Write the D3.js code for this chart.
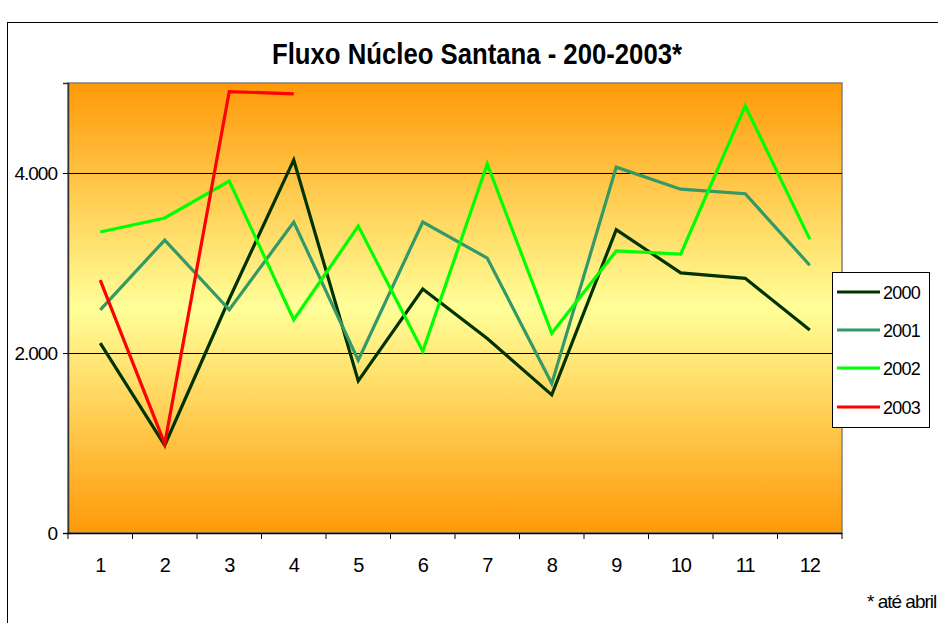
<!DOCTYPE html>
<html>
<head>
<meta charset="utf-8">
<script src="https://cdn.jsdelivr.net/npm/d3@7"></script>
<style>
  body { margin: 0; background: #fff; }
  svg { display: block; font-family: "Liberation Sans", Arial, sans-serif; }
</style>
</head>
<body>
<svg id="chart" width="938" height="623"></svg>
<script>
// months 1..12
var months = [1, 2, 3, 4, 5, 6, 7, 8, 9, 10, 11, 12];
var years = ['2000', '2001', '2002', '2003'];

var v2000 = [2110, 975, 2600, 4145, 1690, 2710, 2160, 1535, 3370, 2890, 2830, 2255];
var v2001 = [2480, 3255, 2480, 3455, 1920, 3455, 3055, 1660, 4065, 3820, 3770, 2975];
var v2002 = [3345, 3500, 3910, 2370, 3410, 2020, 4100, 2220, 3135, 3100, 4745, 3265];
var v2003 = [2810, 990, 4905, 4880];

var yTicks = [0, 2000, 4000];
var colors = ['#003300', '#339966', '#00ff00', '#ff0000'];

var series = [v2000, v2001, v2002, v2003];

var svg = d3.select('#chart');
var plot = {left: 68, top: 83, right: 842, bottom: 533};

//brazilian number format
var ptBR = d3.formatLocale({decimal: ',', thousands: '.', grouping: [3], currency: ['R$', '']});
var fmt = ptBR.format(',');

// outer chart frame (cut by the window on right and bottom)
svg.append('rect')
  .attr('x', 7.5).attr('y', 22.5)
  .attr('width', 960).attr('height', 640)
  .attr('fill', '#fff').attr('stroke', '#000').attr('stroke-width', 1);

// background gradient
var defs = svg.append('defs');
var grad = defs.append('linearGradient')
  .attr('id', 'bg').attr('x1', 0).attr('y1', 0).attr('x2', 0).attr('y2', 1);
grad.append('stop').attr('offset', '0%').attr('stop-color', '#ff9908');
grad.append('stop').attr('offset', '50%').attr('stop-color', '#ffff99');
grad.append('stop').attr('offset', '100%').attr('stop-color', '#ff9908');

var x = d3.scaleBand().domain(months).range([plot.left, plot.right]);
var y = d3.scaleLinear().domain([0, 5000]).range([plot.bottom, plot.top]);

svg.append('rect')
  .attr('x', plot.left).attr('y', plot.top)
  .attr('width', plot.right - plot.left).attr('height', plot.bottom - plot.top)
  .attr('fill', 'url(#bg)')
  .attr('stroke', '#808080').attr('stroke-width', 1.5);

// gridlines
svg.append('g')
  .selectAll('line')
  .data(yTicks.filter(function(d) { return d > 0; }))
  .join('line')
  .attr('x1', plot.left).attr('x2', plot.right)
  .attr('y1', function(d) { return Math.round(y(d)) + 0.5; })
  .attr('y2', function(d) { return Math.round(y(d)) + 0.5; })
  .attr('stroke', '#000').attr('stroke-width', 1);

// y axis
var yAxis = svg.append('g')
  .attr('transform', 'translate(' + plot.left + ',0)')
  .call(d3.axisLeft(y).tickValues(yTicks).tickSize(5).tickPadding(6).tickFormat(fmt));
yAxis.select('.domain').attr('stroke', '#333').attr('stroke-width', 1.5);
yAxis.selectAll('.tick line').attr('stroke', '#000');
yAxis.selectAll('text')
  .attr('font-size', 19).attr('fill', '#000')
  .attr('letter-spacing', -1)
  .attr('font-family', '"Liberation Sans", Arial, sans-serif');

// x axis: ticks on the category boundaries
var xAxisG = svg.append('g');
xAxisG.append('line')
  .attr('x1', plot.left).attr('x2', plot.right)
  .attr('y1', plot.bottom + 0.5).attr('y2', plot.bottom + 0.5)
  .attr('stroke', '#000').attr('stroke-width', 1.5);
var bounds = months.map(function(m) { return x(m); }).concat([plot.right]);
xAxisG.selectAll('line.tk')
  .data(bounds)
  .join('line').attr('class', 'tk')
  .attr('x1', function(d) { return d; }).attr('x2', function(d) { return d; })
  .attr('y1', plot.bottom).attr('y2', plot.bottom + 6)
  .attr('stroke', '#000');
xAxisG.selectAll('text')
  .data(months)
  .join('text')
  .attr('x', function(d) { return x(d) + x.bandwidth() / 2; })
  .attr('y', 572)
  .attr('text-anchor', 'middle')
  .attr('font-size', 20)
  .attr('letter-spacing', -1)
  .text(function(d) { return d; });

// lines
var line = d3.line()
  .x(function(d, i) { return x(months[i]) + x.bandwidth() / 2; })
  .y(function(d) { return y(d); });

svg.append('g')
  .selectAll('path')
  .data(series)
  .join('path')
  .attr('d', function(d) { return line(d); })
  .attr('fill', 'none')
  .attr('stroke', function(d, i) { return colors[i]; })
  .attr('stroke-width', 3.2)
  .attr('stroke-linejoin', 'miter');

// title
svg.append('text')
  .attr('x', 477).attr('y', 64)
  .attr('text-anchor', 'middle')
  .attr('font-size', 29)
  .attr('font-weight', 'bold')
  .attr('textLength', 410)
  .attr('lengthAdjust', 'spacingAndGlyphs')
  .text('Fluxo Núcleo Santana - 200-2003*');

// legend
var legend = svg.append('g');
legend.append('rect')
  .attr('x', 832.5).attr('y', 272.5)
  .attr('width', 97).attr('height', 155)
  .attr('fill', '#fff').attr('stroke', '#000').attr('stroke-width', 1);
var legendRows = [292, 330, 368, 407];
var item = legend.selectAll('g.item')
  .data(years)
  .join('g').attr('class', 'item')
  .attr('transform', function(d, i) { return 'translate(0,' + legendRows[i] + ')'; });
item.append('line')
  .attr('x1', 837).attr('x2', 880)
  .attr('stroke', function(d, i) { return colors[i]; })
  .attr('stroke-width', 3.2);
item.append('text')
  .attr('x', 883).attr('y', 7)
  .attr('font-size', 18)
  .attr('letter-spacing', -0.8)
  .text(function(d) { return d; });

// footnote
svg.append('text')
  .attr('x', 867).attr('y', 608)
  .attr('font-size', 19)
  .attr('letter-spacing', -1)
  .text('* até abril');
</script>
</body>
</html>
